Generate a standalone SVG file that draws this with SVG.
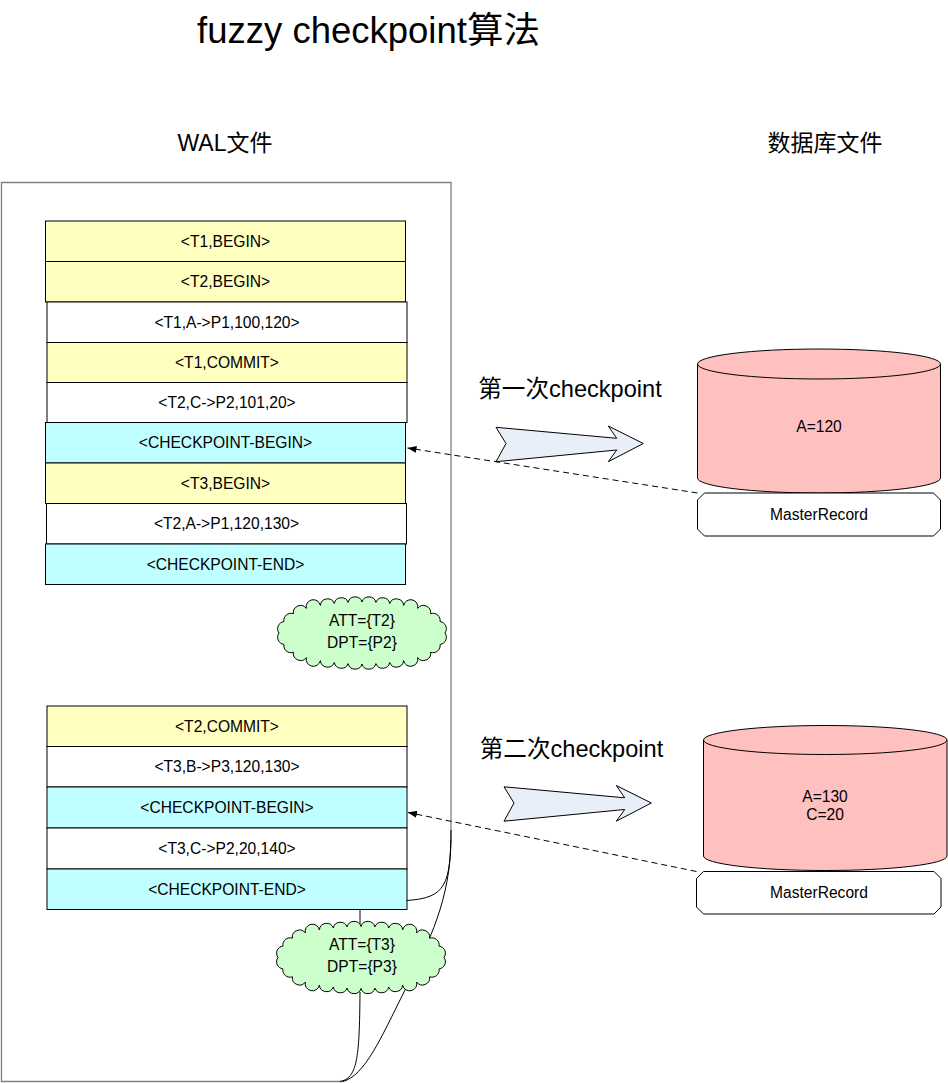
<svg xmlns="http://www.w3.org/2000/svg" width="948" height="1083" viewBox="0 0 948 1083">
<style>
text{font-family:"Liberation Sans","Noto Sans CJK SC",Arial,sans-serif;fill:#000;text-anchor:middle}
.t{font-size:15.6px}
.h{font-size:23px}
.h2{font-size:23.6px}
.title{font-size:36.5px}
.row{stroke:#000;stroke-width:1}
.y{fill:#FFFFC0}
.w{fill:#FFFFFF}
.c{fill:#C0FFFF}
.cyl{fill:#FFC0C0;stroke:#000;stroke-width:1}
.mr{fill:#fff;stroke:#000;stroke-width:1}
.big{fill:#E9EFF8;stroke:#000;stroke-width:1}
.cloud{fill:#CCFFCC;stroke:#000;stroke-width:1}
.dash{fill:none;stroke:#000;stroke-width:1;stroke-dasharray:6 4}
.ln{fill:none;stroke:#000;stroke-width:1}
</style>
<defs>
<marker id="ah" markerUnits="userSpaceOnUse" markerWidth="10" markerHeight="8" refX="9" refY="4" orient="auto">
<path d="M0,0.5 L9,4 L0,7.5 Z" fill="#000"/>
</marker>
<path id="cloudShape" d="M83,0 A7.2,7.2 0 0 1 78.1,11.4 A7.2,7.2 0 0 1 68.6,19.3 A7.2,7.2 0 0 1 55.7,24.6 A7.2,7.2 0 0 1 41.6,27.6 A7.2,7.2 0 0 1 27.7,29.5 A7.2,7.2 0 0 1 13.9,30.6 A7.2,7.2 0 0 1 0,31 A7.2,7.2 0 0 1 -13.9,30.6 A7.2,7.2 0 0 1 -27.7,29.5 A7.2,7.2 0 0 1 -41.6,27.6 A7.2,7.2 0 0 1 -55.7,24.6 A7.2,7.2 0 0 1 -68.6,19.3 A7.2,7.2 0 0 1 -78.1,11.4 A7.2,7.2 0 0 1 -83,0 A7.2,7.2 0 0 1 -78.1,-11.4 A7.2,7.2 0 0 1 -68.6,-19.3 A7.2,7.2 0 0 1 -55.7,-24.6 A7.2,7.2 0 0 1 -41.6,-27.6 A7.2,7.2 0 0 1 -27.7,-29.5 A7.2,7.2 0 0 1 -13.9,-30.6 A7.2,7.2 0 0 1 0,-31 A7.2,7.2 0 0 1 13.9,-30.6 A7.2,7.2 0 0 1 27.7,-29.5 A7.2,7.2 0 0 1 41.6,-27.6 A7.2,7.2 0 0 1 55.7,-24.6 A7.2,7.2 0 0 1 68.6,-19.3 A7.2,7.2 0 0 1 78.1,-11.4 A7.2,7.2 0 0 1 83,0 Z"/>
</defs>
<rect width="948" height="1083" fill="#fff"/>

<text class="title" x="368.5" y="43">fuzzy checkpoint算法</text>
<text class="h" x="225" y="151">WAL文件</text>
<text class="h" x="825" y="151">数据库文件</text>
<text class="h2" x="570" y="397">第一次checkpoint</text>
<text class="h2" x="571.5" y="757">第二次checkpoint</text>

<g id="wal-file">
<path d="M451,840 V182.5 H1.5 V1081.5 H343" fill="none" stroke="#7f7f7f" stroke-width="1.3"/>
</g>

<g id="log1">
<g id="r-t1-begin"><rect class="row y" x="45.5" y="221" width="360" height="40.5"/><text class="t" x="225.5" y="246.5">&lt;T1,BEGIN&gt;</text></g>
<g id="r-t2-begin"><rect class="row y" x="45.5" y="261.5" width="360" height="40.5"/><text class="t" x="225.5" y="287">&lt;T2,BEGIN&gt;</text></g>
<g id="r-t1-a"><rect class="row w" x="47" y="302" width="360" height="40.5"/><text class="t" x="227" y="327.5">&lt;T1,A-&gt;P1,100,120&gt;</text></g>
<g id="r-t1-commit"><rect class="row y" x="47" y="342.5" width="360" height="40"/><text class="t" x="227" y="367.5">&lt;T1,COMMIT&gt;</text></g>
<g id="r-t2-c"><rect class="row w" x="47" y="382.5" width="360" height="40"/><text class="t" x="227" y="407.5">&lt;T2,C-&gt;P2,101,20&gt;</text></g>
<g id="r-cp-begin1"><rect class="row c" x="45.5" y="422.5" width="360" height="40.5"/><text class="t" x="225.5" y="448">&lt;CHECKPOINT-BEGIN&gt;</text></g>
<g id="r-t3-begin"><rect class="row y" x="45.5" y="463" width="360" height="40.5"/><text class="t" x="225.5" y="488.5">&lt;T3,BEGIN&gt;</text></g>
<g id="r-t2-a"><rect class="row w" x="46.5" y="503.5" width="360" height="40.5"/><text class="t" x="226.5" y="529">&lt;T2,A-&gt;P1,120,130&gt;</text></g>
<g id="r-cp-end1"><rect class="row c" x="45.5" y="544" width="360" height="40.5"/><text class="t" x="225.5" y="569.5">&lt;CHECKPOINT-END&gt;</text></g>
</g>

<g id="log2">
<g id="r-t2-commit"><rect class="row y" x="47" y="706" width="360" height="40.5"/><text class="t" x="227" y="731.5">&lt;T2,COMMIT&gt;</text></g>
<g id="r-t3-b"><rect class="row w" x="47" y="746.5" width="360" height="40.5"/><text class="t" x="227" y="772">&lt;T3,B-&gt;P3,120,130&gt;</text></g>
<g id="r-cp-begin2"><rect class="row c" x="47" y="787" width="360" height="41"/><text class="t" x="227" y="812.5">&lt;CHECKPOINT-BEGIN&gt;</text></g>
<g id="r-t3-c"><rect class="row w" x="47" y="828" width="360" height="41"/><text class="t" x="227" y="853.5">&lt;T3,C-&gt;P2,20,140&gt;</text></g>
<g id="r-cp-end2"><rect class="row c" x="47" y="869" width="360" height="40.5"/><text class="t" x="227" y="894.5">&lt;CHECKPOINT-END&gt;</text></g>
</g>

<g id="connectors">
<path class="ln" d="M451,830 C450.5,885 446,898 406.5,900.5"/>
<path class="ln" d="M451,840 C450,900 430,940 405,990 C380,1040 365,1075 343,1081.5"/>
<path class="ln" d="M360,909.5 V925"/>
<path class="ln" d="M360,992 C359.5,1060 357,1078 340,1081.5"/>
<path class="dash" d="M697.5,493 L407.5,448" marker-end="url(#ah)"/>
<path class="dash" d="M696.5,871.5 L408,812.5" marker-end="url(#ah)"/>
</g>

<g id="cloud1">
<use href="#cloudShape" class="cloud" transform="translate(362,633)"/>
<text class="t" x="362" y="626">ATT={T2}</text>
<text class="t" x="362" y="648">DPT={P2}</text>
</g>
<g id="cloud2">
<use href="#cloudShape" class="cloud" transform="translate(361,957.5)"/>
<text class="t" x="362" y="950">ATT={T3}</text>
<text class="t" x="362" y="972">DPT={P3}</text>
</g>

<g id="arrow1">
<polygon class="big" points="496,427.3 616.7,438.3 608.3,426 643.3,443.5 608.3,461.7 616.7,450 496,461.7 506,443.5"/>
</g>
<g id="arrow2">
<polygon class="big" points="504,786.8 624.7,797.8 616.3,785.5 651.3,803 616.3,821.2 624.7,809.5 504,821.2 514,803"/>
</g>

<g id="db1">
<path class="cyl" d="M697.5,364 A121.5,15 0 0 1 940.5,364 V478 A121.5,15 0 0 1 697.5,478 Z"/>
<path class="cyl" d="M697.5,364 A121.5,15 0 0 0 940.5,364" fill="none"/>
<text class="t" x="819" y="432">A=120</text>
</g>
<g id="mr1">
<path class="mr" d="M704.5,493 H933.5 L940.5,500 V529 L933.5,536 H704.5 L697.5,529 V500 Z"/>
<text class="t" x="819" y="520">MasterRecord</text>
</g>

<g id="db2">
<path class="cyl" d="M703.5,740 A121.75,14.5 0 0 1 947,740 V856 A121.75,14.5 0 0 1 703.5,856 Z"/>
<path class="cyl" d="M703.5,740 A121.75,14.5 0 0 0 947,740" fill="none"/>
<text class="t" x="825" y="802">A=130</text>
<text class="t" x="825" y="820">C=20</text>
</g>
<g id="mr2">
<path class="mr" d="M703.5,871.5 H934 L941,878.5 V907 L934,914 H703.5 L696.5,907 V878.5 Z"/>
<text class="t" x="819" y="898">MasterRecord</text>
</g>
</svg>
